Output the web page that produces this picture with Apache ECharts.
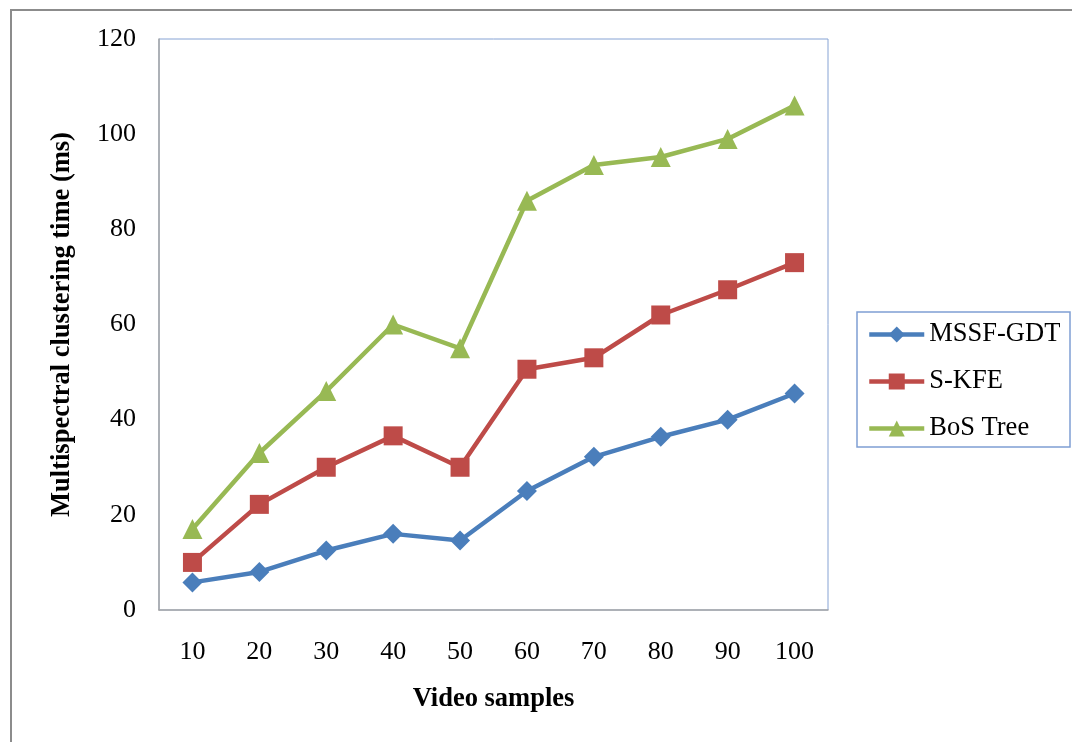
<!DOCTYPE html>
<html>
<head>
<meta charset="utf-8">
<script src="https://cdn.jsdelivr.net/npm/echarts@6/dist/echarts.min.js"></script>
<style>html,body{margin:0;padding:0;background:#fff;}#c{width:1072px;height:742px;}</style>
</head>
<body>
<div id="c"></div>
<script>
const categories = ['10','20','30','40','50','60','70','80','90','100'];
const mssfGdt = [5.8, 8, 12.5, 16, 14.6, 25, 32.2, 36.4, 40, 45.5];
const sKfe = [10, 22.2, 30, 36.6, 30, 50.6, 53, 62, 67.3, 73];
const bosTree = [17, 33, 46, 60, 55, 86, 93.5, 95.2, 99, 106];
const yTicks = {min: 0, max: 120, interval: 20};

const font = 'Liberation Serif';
const chart = echarts.init(document.getElementById('c'));
function mk(name, data, color, symbol, size) {
  return {
    name: name, type: 'line', data: data,
    symbol: symbol, symbolSize: size,
    lineStyle: {color: color, width: 4.5},
    itemStyle: {color: color},
    emphasis: {disabled: true},
    animation: false
  };
}
chart.setOption({
  animation: false,
  backgroundColor: '#fff',
  graphic: [
    {type: 'rect', shape: {x: 11, y: 10, width: 1200, height: 900}, style: {fill: 'none', stroke: '#8c8c8c', lineWidth: 2}, z: -1},
    {type: 'rect', shape: {x: 857, y: 312, width: 213, height: 135}, style: {fill: '#fff', stroke: '#7f9fd4', lineWidth: 1.5}, z: 0}
  ],
  grid: {left: 159, top: 39, right: 244, bottom: 132, show: true, borderColor: '#86a3d4', borderWidth: 1, backgroundColor: 'transparent'},
  legend: {
    orient: 'vertical', left: 867, top: 321, padding: 0,
    itemWidth: 55, itemHeight: 20, itemGap: 20,
    lineStyle: {width: 4.5},
    textStyle: {fontFamily: font, fontSize: 26.5, color: '#000', lineHeight: 26},
    data: ['MSSF-GDT', 'S-KFE', 'BoS Tree'],
    z: 5
  },
  xAxis: {
    type: 'category', data: categories, boundaryGap: true,
    name: 'Video samples', nameLocation: 'middle', nameGap: 76,
    nameTextStyle: {fontFamily: font, fontSize: 26.5, fontWeight: 'bold', color: '#000'},
    axisLine: {lineStyle: {color: '#a6a6a6', width: 1.5}},
    axisTick: {show: false},
    axisLabel: {fontFamily: font, fontSize: 26, color: '#000', margin: 29},
    splitLine: {show: false}
  },
  yAxis: {
    type: 'value', min: yTicks.min, max: yTicks.max, interval: yTicks.interval,
    name: 'Multispectral clustering time (ms)', nameLocation: 'middle', nameGap: 83, nameRotate: 90,
    nameTextStyle: {fontFamily: font, fontSize: 26.5, fontWeight: 'bold', color: '#000'},
    axisLine: {show: true, lineStyle: {color: '#a6a6a6', width: 1.5}},
    axisTick: {show: false},
    axisLabel: {fontFamily: font, fontSize: 26, color: '#000', margin: 23},
    splitLine: {show: false}
  },
  series: [
    mk('MSSF-GDT', mssfGdt, '#4a7ebb', 'diamond', 20),
    mk('S-KFE', sKfe, '#be4b48', 'rect', 19),
    mk('BoS Tree', bosTree, '#98b954', 'triangle', 20)
  ]
});
</script>
</body>
</html>
